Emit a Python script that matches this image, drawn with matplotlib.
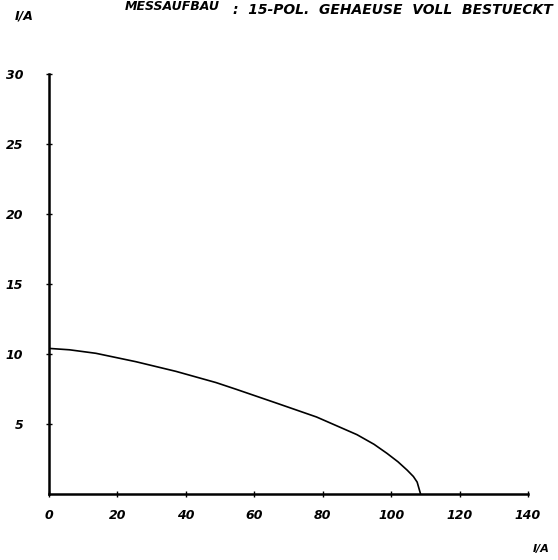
import matplotlib
matplotlib.use("Agg")
import matplotlib.pyplot as plt

# Data
current_x = [0, 6.0, 13.7, 25.4, 37.1, 48.8, 54.7, 66.4, 78.2, 90.0, 95.0, 98.8, 102.0, 104.7, 106.5, 107.6, 108.6]
current_y = [10.4, 10.3, 10.05, 9.45, 8.76, 7.96, 7.48, 6.5, 5.5, 4.24, 3.55, 2.9, 2.3, 1.7, 1.25, 0.85, 0.0]
x_ticks = [0, 20, 40, 60, 80, 100, 120, 140]
y_ticks = [5, 10, 15, 20, 25, 30]
title_left = "MESSAUFBAU"
title_right = ":  15-POL.  GEHAEUSE  VOLL  BESTUECKT"

W, H = 558, 560
fig = plt.figure(figsize=(W / 100, H / 100), dpi=100)
ax = fig.add_axes([49 / W, (H - 494) / H, 479 / W, 420 / H])

ax.plot(current_x, current_y, color="black", lw=1.2)
ax.set_xlim(0, 140)
ax.set_ylim(0, 30)

for s in ["top", "right"]:
    ax.spines[s].set_visible(False)
for s in ["left", "bottom"]:
    ax.spines[s].set_linewidth(1.8)

font = dict(family="DejaVu Sans", style="italic", weight="bold", size=9)
ax.set_xticks(x_ticks)
ax.set_xticklabels([str(t) for t in x_ticks], fontdict=font)
ax.set_yticks(y_ticks)
ax.set_yticklabels([str(t) for t in y_ticks], fontdict=font)
ax.tick_params(axis="x", direction="inout", length=5, width=1, pad=8)
ax.tick_params(axis="y", direction="inout", length=5, width=1, pad=16)

fig.text(15 / W, 1 - 16 / H, "I/A", fontdict=font, ha="left", va="center")
fig.text(533 / W, 1 - 549 / H, "I/A", fontdict=dict(font, size=8), ha="left", va="center")
fig.text(125 / W, 1 - 6 / H, title_left, fontdict=font, ha="left", va="center")
fig.text(553 / W, 1 - 10 / H, title_right, fontdict=dict(font, size=10), ha="right", va="center")

fig.savefig("out.png", dpi=100, facecolor="white")
